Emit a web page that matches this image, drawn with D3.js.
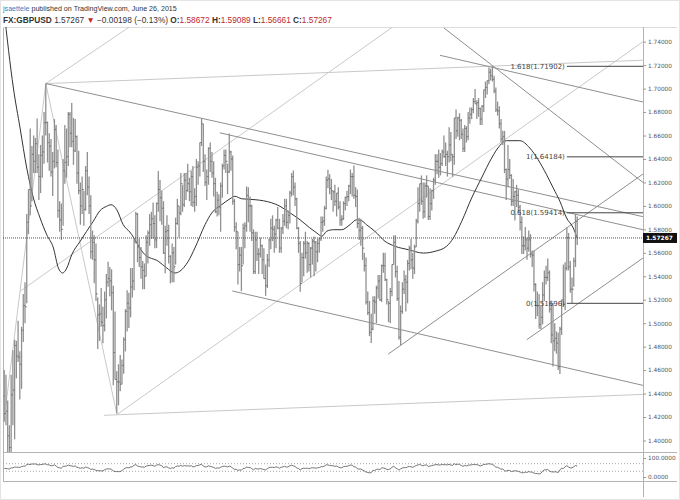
<!DOCTYPE html>
<html><head><meta charset="utf-8">
<script src="https://cdn.jsdelivr.net/npm/d3@7"></script>
<style>
html,body{margin:0;padding:0;background:#fff;}
svg{display:block;}
</style></head><body>
<svg id="chart" width="680" height="500"></svg>
<script>
// ---------- DATA (weekly GBPUSD bars: [high, low, close]) ----------
const bars2009 = [
[1.4600,1.4160,1.4230],[1.4560,1.4130,1.4250],[1.4340,1.3657,1.4040],[1.4130,1.3740,1.3940],[1.4560,1.3860,1.4390],
[1.4770,1.4130,1.4430],[1.4860,1.4010,1.4810],[1.4850,1.4530,1.4720],[1.5020,1.4670,1.4710],[1.4760,1.4350,1.4650],
[1.4970,1.4440,1.4940],[1.5250,1.4840,1.5150],[1.5350,1.5000,1.5140],[1.5930,1.5170,1.5860],[1.6140,1.5760,1.6140],
[1.6660,1.5920,1.6000],[1.6510,1.6040,1.6440],[1.6600,1.6280,1.6380],[1.6580,1.6280,1.6530],[1.6745,1.6280,1.6330],
[1.6440,1.6050,1.6250],[1.6520,1.6110,1.6430],[1.6600,1.6240,1.6460],[1.6800,1.6360,1.6710],[1.7043,1.6600,1.6710],
[1.6720,1.6370,1.6540],[1.6620,1.6300,1.6510],[1.6570,1.6250,1.6290],[1.6460,1.6085,1.6380],[1.6740,1.6320,1.6650],
[1.6690,1.6330,1.6370],[1.6480,1.5900,1.5960],[1.6040,1.5780,1.5880],[1.6020,1.5710,1.5800],[1.6400,1.5830,1.6300],
[1.6690,1.6190,1.6370],[1.6660,1.6240,1.6420],[1.6800,1.6340,1.6780],[1.6800,1.6500,1.6620],[1.6877,1.6500,1.6550],
[1.6750,1.6350,1.6470],[1.6740,1.6460,1.6590],[1.6600,1.6190,1.6280],[1.6470,1.6100,1.6130],[1.6200,1.5840,1.6000],
[1.6250,1.5930,1.6140]];
const bars2010 = [
[1.6130,1.5830,1.5970],[1.6340,1.5960,1.6300],[1.6460,1.6090,1.6160],[1.6250,1.5930,1.6000],[1.6090,1.5550,1.5610],
[1.5790,1.5540,1.5690],[1.5750,1.5340,1.5540],[1.5680,1.5190,1.5250],[1.5220,1.4781,1.5070],[1.5160,1.4850,1.5080],
[1.5300,1.4970,1.5010],[1.5140,1.4830,1.4980],[1.5270,1.4930,1.5200],[1.5420,1.5040,1.5350],[1.5523,1.5310,1.5380],
[1.5480,1.5230,1.5360],[1.5460,1.5110,1.5260],[1.5320,1.4470,1.4750],[1.5100,1.4520,1.4520],[1.4590,1.4230,1.4500],
[1.4650,1.4300,1.4500],[1.4730,1.4420,1.4480],[1.4690,1.4480,1.4640],[1.4880,1.4570,1.4860],[1.5120,1.4760,1.5100],
[1.5280,1.4930,1.5170],[1.5260,1.4960,1.5130],[1.5470,1.5050,1.5310],[1.5470,1.5220,1.5360],[1.5720,1.5280,1.5700],
[1.5950,1.5680,1.5930],[1.5940,1.5520,1.5650],[1.5720,1.5480,1.5560],[1.5650,1.5380,1.5480],[1.5530,1.5290,1.5450],
[1.5510,1.5290,1.5400],[1.5750,1.5400,1.5690],[1.5790,1.5510,1.5770],[1.5930,1.5660,1.5840],[1.5950,1.5720,1.5890],
[1.6030,1.5720,1.5850],[1.5920,1.5640,1.5710],[1.6030,1.5640,1.6020],[1.6298,1.5950,1.6140],[1.6220,1.5870,1.6070],
[1.6130,1.5840,1.5980],[1.6040,1.5590,1.5600],[1.5830,1.5426,1.5780],[1.5920,1.5660,1.5790],[1.5840,1.5510,1.5570],
[1.5580,1.5340,1.5440],[1.5680,1.5350,1.5600]];
const bars2011 = [
[1.5650,1.5350,1.5480],[1.5900,1.5500,1.5850],[1.6060,1.5840,1.6000],[1.6000,1.5730,1.5940],[1.6280,1.5920,1.6190],
[1.6180,1.5950,1.6010],[1.6280,1.5990,1.6220],[1.6280,1.6050,1.6130],[1.6360,1.6120,1.6190],[1.6240,1.6040,1.6120],
[1.6300,1.6000,1.6250],[1.6340,1.5990,1.6030],[1.6150,1.5950,1.6080],[1.6400,1.6000,1.6330],[1.6380,1.6180,1.6340],
[1.6540,1.6250,1.6540],[1.6747,1.6510,1.6700],[1.6700,1.6290,1.6380],[1.6440,1.6170,1.6200],[1.6310,1.6050,1.6250],
[1.6500,1.6180,1.6490],[1.6540,1.6290,1.6380],[1.6460,1.6240,1.6280],[1.6380,1.6080,1.6190],[1.6240,1.5940,1.5950],
[1.6120,1.5910,1.6050],[1.6100,1.5920,1.5990],[1.6200,1.5780,1.6170],[1.6360,1.6070,1.6340],[1.6480,1.6310,1.6430],
[1.6480,1.6280,1.6380],[1.6360,1.6100,1.6290],[1.6618,1.6280,1.6460],[1.6470,1.6300,1.6400],[1.6430,1.6010,1.6040],
[1.6060,1.5780,1.5820],[1.5860,1.5630,1.5780],[1.5780,1.5330,1.5500],[1.5650,1.5440,1.5580],[1.5650,1.5272,1.5490],
[1.5850,1.5500,1.5810],[1.5860,1.5640,1.5830],[1.6166,1.5780,1.6090],[1.6160,1.5860,1.6000],[1.6080,1.5780,1.6000],
[1.6010,1.5700,1.5770],[1.5800,1.5420,1.5440],[1.5780,1.5420,1.5710],[1.5780,1.5530,1.5590],[1.5640,1.5420,1.5590],
[1.5730,1.5560,1.5660],[1.5670,1.5420,1.5540]];
const bars2012 = [
[1.5640,1.5380,1.5380],[1.5500,1.5233,1.5320],[1.5590,1.5300,1.5540],[1.5720,1.5480,1.5710],[1.5890,1.5630,1.5810],
[1.5920,1.5700,1.5800],[1.5830,1.5600,1.5760],[1.5890,1.5640,1.5880],[1.5990,1.5800,1.5810],[1.5890,1.5600,1.5640],
[1.5820,1.5600,1.5810],[1.5930,1.5760,1.5870],[1.6060,1.5830,1.6000],[1.6060,1.5810,1.5860],[1.5960,1.5800,1.5920],
[1.6130,1.5850,1.6110],[1.6280,1.6080,1.6250],[1.6301,1.6090,1.6160],[1.6200,1.6000,1.6060],[1.6070,1.5800,1.5810],
[1.5820,1.5600,1.5680],[1.5700,1.5268,1.5340],[1.5600,1.5350,1.5560],[1.5700,1.5400,1.5680],[1.5780,1.5550,1.5600],
[1.5700,1.5430,1.5680],[1.5690,1.5440,1.5500],[1.5650,1.5390,1.5640],[1.5720,1.5500,1.5700],[1.5740,1.5400,1.5690],
[1.5700,1.5440,1.5610],[1.5720,1.5520,1.5680],[1.5730,1.5600,1.5720],[1.5910,1.5700,1.5860],[1.5910,1.5780,1.5870],
[1.6000,1.5830,1.5980],[1.6250,1.5970,1.6220],[1.6309,1.6150,1.6230],[1.6270,1.6100,1.6150],[1.6230,1.6050,1.6130],
[1.6130,1.5950,1.6120],[1.6180,1.6000,1.6040],[1.6110,1.5910,1.6110],[1.6160,1.5970,1.5990],[1.6040,1.5830,1.5880],
[1.5920,1.5830,1.5890],[1.6040,1.5880,1.6020],[1.6080,1.5960,1.6070],[1.6130,1.6000,1.6080],[1.6180,1.6040,1.6170],
[1.6310,1.6100,1.6250],[1.6280,1.6080,1.6250],[1.6345,1.6060,1.6090]];
const bars2013 = [
[1.6160,1.5990,1.6080],[1.6140,1.5810,1.5850],[1.5900,1.5710,1.5790],[1.5890,1.5660,1.5810],[1.5830,1.5540,1.5640],
[1.5600,1.5440,1.5490],[1.5560,1.5160,1.5180],[1.5270,1.5070,1.5090],[1.5190,1.4890,1.4920],[1.5080,1.4832,1.4950],
[1.5230,1.4940,1.5190],[1.5230,1.5080,1.5180],[1.5320,1.5000,1.5300],[1.5410,1.5210,1.5360],[1.5410,1.5190,1.5200],
[1.5500,1.5180,1.5490],[1.5600,1.5430,1.5490],[1.5600,1.5360,1.5370],[1.5380,1.5160,1.5200],[1.5190,1.5010,1.5170],
[1.5300,1.5000,1.5270],[1.5500,1.5230,1.5500],[1.5750,1.5500,1.5690],[1.5750,1.5390,1.5440],[1.5490,1.5190,1.5210],
[1.5360,1.4860,1.4880],[1.5150,1.4812,1.5100],[1.5350,1.5080,1.5290],[1.5450,1.5250,1.5370],[1.5410,1.5100,1.5350],
[1.5540,1.5170,1.5510],[1.5660,1.5450,1.5640],[1.5720,1.5460,1.5540],[1.5600,1.5380,1.5470],[1.5670,1.5420,1.5650],
[1.5890,1.5650,1.5870],[1.6160,1.5850,1.6020],[1.6190,1.5950,1.6190],[1.6260,1.6010,1.6040],[1.6200,1.5890,1.5950],
[1.6200,1.5900,1.6170],[1.6260,1.6070,1.6170],[1.6170,1.5880,1.5910],[1.6150,1.5880,1.6020],[1.6140,1.5960,1.6130],
[1.6240,1.6060,1.6220],[1.6440,1.6180,1.6380],[1.6440,1.6270,1.6380],[1.6480,1.6240,1.6330],[1.6450,1.6260,1.6360],
[1.6480,1.6340,1.6460],[1.6600,1.6410,1.6420]];
const bars2014 = [
[1.6540,1.6340,1.6440],[1.6470,1.6250,1.6420],[1.6670,1.6370,1.6520],[1.6630,1.6380,1.6440],[1.6440,1.6250,1.6420],
[1.6750,1.6350,1.6750],[1.6823,1.6570,1.6640],[1.6760,1.6590,1.6750],[1.6790,1.6560,1.6730],[1.6740,1.6570,1.6610],
[1.6660,1.6460,1.6490],[1.6690,1.6460,1.6660],[1.6680,1.6540,1.6590],[1.6800,1.6560,1.6750],[1.6840,1.6700,1.6780],
[1.6840,1.6740,1.6820],[1.6920,1.6790,1.6890],[1.6997,1.6870,1.6870],[1.6900,1.6740,1.6880],[1.6920,1.6760,1.6830],
[1.6840,1.6690,1.6740],[1.6860,1.6690,1.6850],[1.6990,1.6800,1.6990],[1.7060,1.6920,1.7010],[1.7070,1.6950,1.7070],
[1.7180,1.7040,1.7140],[1.7170,1.7070,1.7110],[1.7192,1.7060,1.7080],[1.7110,1.6960,1.6980],[1.7010,1.6800,1.6820],
[1.6890,1.6770,1.6810],[1.6850,1.6660,1.6700],[1.6740,1.6540,1.6570],[1.6640,1.6520,1.6590],[1.6640,1.6280,1.6310],
[1.6320,1.6050,1.6230],[1.6520,1.6160,1.6310],[1.6400,1.6230,1.6260],[1.6270,1.6000,1.6040],[1.6230,1.6000,1.6080],
[1.6130,1.5875,1.6120],[1.6180,1.5990,1.6090],[1.6140,1.5950,1.5990],[1.6010,1.5790,1.5860],[1.5910,1.5590,1.5660],
[1.5740,1.5590,1.5660],[1.5820,1.5620,1.5710],[1.5730,1.5540,1.5640],[1.5790,1.5610,1.5710],[1.5760,1.5560,1.5590],
[1.5620,1.5480,1.5580],[1.5620,1.5270,1.5330]];
const bars2015 = [
[1.5340,1.5035,1.5150],[1.5270,1.5060,1.5150],[1.5250,1.4952,1.4990],[1.5150,1.4950,1.5050],[1.5350,1.4990,1.5240],
[1.5450,1.5190,1.5390],[1.5490,1.5330,1.5390],[1.5552,1.5360,1.5430],[1.5450,1.5090,1.5120],[1.5180,1.4830,1.4900],
[1.5170,1.4630,1.4850],[1.5000,1.4760,1.4870],[1.4930,1.4740,1.4830],[1.4920,1.4600,1.4630],[1.4970,1.4566,1.4950],
[1.5200,1.4900,1.5200],[1.5500,1.5140,1.5160],[1.5520,1.5110,1.5470],[1.5815,1.5450,1.5730],[1.5770,1.5450,1.5480],
[1.5530,1.5260,1.5290],[1.5390,1.5170,1.5290],[1.5560,1.5310,1.5530],[1.5930,1.5480,1.5867],[1.59089,1.56661,1.57267]];
const yearStarts = ["2009-02-16","2010-01-04","2011-01-03","2012-01-02","2013-01-07","2014-01-06","2015-01-05"];
const firstOpen = 1.4380, lastOpen = 1.58672;
// weekly closes before the first bar (seed the oscillator)
const seedCloses = [1.4770,1.4770,1.5380,1.4670,1.4950,1.5120,1.4650,1.4590,1.4830,1.4640,1.3710,1.4440,1.4780,1.4360];

// moving average
const maDates = ["2009-02-14","2009-03-25","2009-04-21","2009-05-18","2009-06-14","2009-07-11","2009-08-07","2009-09-03","2009-09-23","2009-10-10","2009-10-27","2009-11-16","2009-12-20",
"2010-01-15","2010-02-11","2010-03-10","2010-04-06","2010-04-24","2010-05-17","2010-06-12","2010-07-09","2010-09-08","2010-11-01","2010-12-05",
"2011-01-07","2011-01-27","2011-03-02","2011-03-29","2011-05-09","2011-06-05","2011-07-15","2011-08-18","2011-09-07","2011-10-04","2011-11-27","2011-12-31",
"2012-03-07","2012-04-17","2012-05-27","2012-07-06","2012-08-03","2012-08-23","2012-09-12","2012-10-09","2012-11-12","2012-12-15",
"2013-01-11","2013-01-31","2013-02-20","2013-03-26","2013-05-06","2013-06-15","2013-08-08","2013-10-08","2013-11-24",
"2014-01-10","2014-02-06","2014-03-12","2014-04-21","2014-05-31","2014-07-11","2014-08-13","2014-09-09","2014-11-02","2014-12-12",
"2015-01-15","2015-02-18","2015-03-17","2015-04-13","2015-05-10","2015-06-06","2015-06-22"];
const maValues = [1.7690,1.7005,1.6664,1.6323,1.6067,1.5897,1.5754,1.5641,1.5470,1.5428,1.5470,1.5584,1.5698,
1.5783,1.5869,1.5959,1.5997,1.6010,1.5968,1.5840,1.5777,1.5584,1.5528,1.5471,
1.5428,1.5443,1.5528,1.5641,1.5840,1.5940,1.6010,1.6061,1.6082,1.6061,1.6053,1.6044,
1.5997,1.5940,1.5882,1.5812,1.5769,1.5741,1.5784,1.5797,1.5797,1.5840,
1.5882,1.5874,1.5840,1.5783,1.5698,1.5656,1.5627,1.5598,1.5613,
1.5656,1.5726,1.5869,1.6067,1.6238,1.6408,1.6515,1.6556,1.6556,1.6494,
1.6394,1.6266,1.6153,1.6039,1.5897,1.5812,1.5726];

// trend lines [date1, price1, date2, price2, extendRight]
const lightLines = [
 ["2009-08-03",1.7043,"2014-07-14",1.7192,1],
 ["2010-03-26",1.4215,"2016-03-14",1.4393,0],
 ["2010-05-17",1.4220,"2016-03-14",1.7400,0],
 ["2009-04-21",1.5272,"2013-04-16",1.7450,1],
 ["2009-02-23",1.4305,"2009-08-03",1.7043,0],
 ["2009-08-03",1.7043,"2010-07-01",1.7517,1],
 ["2009-08-03",1.7043,"2010-05-17",1.4230,0]];
const darkLines = [
 ["2009-08-03",1.7043,"2011-04-25",1.6747,1],
 ["2011-07-08",1.6623,"2016-03-14",1.5797,0],
 ["2011-08-27",1.5275,"2016-03-14",1.4470,0],
 ["2013-05-19",1.4737,"2016-03-14",1.6272,0],
 ["2014-11-30",1.4859,"2016-03-14",1.5556,0],
 ["2013-12-30",1.7517,"2016-03-14",1.6200,0],
 ["2013-12-14",1.7284,"2016-03-14",1.6886,0]];

const fibRatios = ["1.618","1","0.618","0"];
const fibPrices = [1.71902,1.64184,1.59414,1.51696];
const fibStart = "2015-05-11";

const priceTicks = [1.40,1.42,1.44,1.46,1.48,1.50,1.52,1.54,1.56,1.58,1.60,1.62,1.64,1.66,1.68,1.70,1.72,1.74];
const timeTickDates = ["2009-03-01","2010-01-01","2010-07-01","2011-01-01","2011-07-01","2012-01-01","2012-07-01","2013-01-01","2013-07-01","2014-01-01","2014-07-01","2015-01-01","2015-07-01","2016-01-01"];
const timeTickLabels = ["Mar","2010","Jul","2011","Jul","2012","Jul","2013","Jul","2014","Jul","2015","Jul","2016"];
const oscTicks = [0,100];
const oscLevels = [30,70];
const lastPrice = 1.57267;
const headerQuote = ["1.58672","1.59089","1.56661","1.57267"];

// ---------- BUILD ----------
const parse = d3.utcParse("%Y-%m-%d");
const DAY = 864e5;
const bars = [];
[bars2009,bars2010,bars2011,bars2012,bars2013,bars2014,bars2015].forEach((arr,k)=>{
  const t0 = +parse(yearStarts[k]);
  arr.forEach((b,i)=>bars.push({date:new Date(t0+i*7*DAY),high:b[0],low:b[1],close:b[2]}));
});
bars.forEach((b,i)=>{ b.open = i===0 ? firstOpen : bars[i-1].close; });
bars[bars.length-1].open = lastOpen;

const svg = d3.select("#chart");
const L=3, R=643, T=27, B=452, OT=452, OB=481;
const x = d3.scaleUtc().domain([parse("2009-02-11"), parse("2016-03-14")]).range([L,R]);
const y = d3.scaleLinear().domain([1.40,1.74]).range([440.5,41.7]);
const yo = d3.scaleLinear().domain([0,100]).range([477,458]);

svg.append("rect").attr("width",680).attr("height",500).attr("fill","#fff");
const defs = svg.append("defs");
defs.append("clipPath").attr("id","main").append("rect").attr("x",L).attr("y",T).attr("width",R-L).attr("height",B-T);
defs.append("clipPath").attr("id","osc").append("rect").attr("x",L).attr("y",OT).attr("width",R-L).attr("height",OB-OT);
defs.append("clipPath").attr("id","tax").append("rect").attr("x",L).attr("y",OB).attr("width",R-L).attr("height",20);

// frame
const fr = svg.append("g").attr("stroke","#b4b4b4").attr("fill","none").attr("shape-rendering","crispEdges");
fr.append("line").attr("x1",L).attr("x2",L).attr("y1",T).attr("y2",OB);
fr.append("line").attr("x1",L).attr("x2",677).attr("y1",T).attr("y2",T).attr("stroke","#ddd");
fr.append("line").attr("x1",L).attr("x2",677).attr("y1",B).attr("y2",B);
fr.append("line").attr("x1",L).attr("x2",677).attr("y1",OB).attr("y2",OB);
fr.append("line").attr("x1",R).attr("x2",R).attr("y1",T).attr("y2",497);
fr.append("rect").attr("x",0.5).attr("y",0.5).attr("width",679).attr("height",499).attr("stroke","#e4e4e4");

const main = svg.append("g").attr("clip-path","url(#main)");

function drawLines(list, color){
  list.forEach(l=>{
    let x1=x(parse(l[0])), y1=y(l[1]), x2=x(parse(l[2])), y2=y(l[3]);
    if(l[4]){ const s=(y2-y1)/(x2-x1); y2 = y2 + s*(R-x2); x2=R; }
    main.append("line").attr("x1",x1).attr("y1",y1).attr("x2",x2).attr("y2",y2)
      .attr("stroke",color).attr("stroke-width",1);
  });
}
drawLines(lightLines,"#c9c9c9");
drawLines(darkLines,"#8f8f8f");

// moving average
const maPts = maDates.map((d,i)=>[x(parse(d)), y(maValues[i])]);
main.append("path").attr("d", d3.line().curve(d3.curveMonotoneX)(maPts))
  .attr("fill","none").attr("stroke","#333").attr("stroke-width",1);

// bars
const bg = main.append("g");
bars.forEach(b=>{
  const cx = x(b.date);
  bg.append("path").attr("d",`M${cx},${y(b.high)}V${y(b.low)}`).attr("stroke","#909090").attr("stroke-width",1.3);
  bg.append("path").attr("d",`M${cx-1},${y(b.open)}H${cx}M${cx},${y(b.close)}H${cx+1}`).attr("stroke","#666").attr("stroke-width",0.8);
});

// current price dotted line
main.append("line").attr("x1",L).attr("x2",R).attr("y1",y(lastPrice)).attr("y2",y(lastPrice))
  .attr("stroke","#555").attr("stroke-dasharray","1,1").attr("stroke-width",1);

// fib levels
const fx = x(parse(fibStart));
fibPrices.forEach((p,i)=>{
  main.append("line").attr("x1",fx).attr("x2",R).attr("y1",y(p)).attr("y2",y(p)).attr("stroke","#444").attr("stroke-width",1);
  main.append("text").attr("x",fx-2).attr("y",y(p)+2.5).attr("text-anchor","end")
    .attr("font-family","DejaVu Sans").attr("font-size",7).attr("fill","#444")
    .text(`${fibRatios[i]}(${d3.format(".5f")(p)})`);
});

// price axis
const ax = svg.append("g").attr("transform",`translate(${R},0)`)
  .call(d3.axisRight(y).tickValues(priceTicks).tickFormat(d3.format(".5f")).tickSize(3).tickPadding(2));
ax.select(".domain").remove();
ax.selectAll("line").attr("stroke","#999");
ax.selectAll("text").attr("font-family","DejaVu Sans").attr("font-size",5.8).attr("fill","#555");

// last price tag
svg.append("rect").attr("x",R).attr("y",y(lastPrice)-5).attr("width",34).attr("height",10).attr("fill","#111");
svg.append("text").attr("x",R+3).attr("y",y(lastPrice)+2.2).attr("font-family","DejaVu Sans").attr("font-size",5.9)
  .attr("font-weight","bold").attr("fill","#fff").text(d3.format(".5f")(lastPrice));

// oscillator (RSI 14 computed from weekly closes)
const closesAll = seedCloses.concat(bars.map(b=>b.close));
const n=14; let ag=0, al=0; const rsi=[];
for(let i=1;i<closesAll.length;i++){
  const ch = closesAll[i]-closesAll[i-1], g=Math.max(ch,0), lo=Math.max(-ch,0);
  if(i<=n){ ag+=g/n; al+=lo/n; } else { ag=(ag*(n-1)+g)/n; al=(al*(n-1)+lo)/n; }
  if(i>=n) rsi.push(100-100/(1+ag/(al||1e-9)));
}
const osc = svg.append("g").attr("clip-path","url(#osc)");
oscLevels.forEach(v=>osc.append("line").attr("x1",L).attr("x2",R).attr("y1",yo(v)).attr("y2",yo(v))
  .attr("stroke","#aaa").attr("stroke-dasharray","1,2"));
const rsiPts = bars.map((b,i)=>[x(b.date), yo(rsi[i])]);
osc.append("path").attr("d",d3.line()(rsiPts)).attr("fill","none").attr("stroke","#666").attr("stroke-width",0.9);
const oa = svg.append("g").attr("transform",`translate(${R},0)`)
  .call(d3.axisRight(yo).tickValues(oscTicks).tickFormat(d3.format(".4f")).tickSize(3).tickPadding(2));
oa.select(".domain").remove();
oa.selectAll("line").attr("stroke","#999");
oa.selectAll("text").attr("font-family","DejaVu Sans").attr("font-size",5.8).attr("fill","#555");

// time axis
const ta = svg.append("g").attr("transform",`translate(0,${OB})`).attr("clip-path","url(#tax)")
  .call(d3.axisBottom(x).tickValues(timeTickDates.map(parse)).tickFormat((d,i)=>timeTickLabels[i]).tickSize(0).tickPadding(7));
ta.select(".domain").remove();
ta.selectAll("text").attr("font-family","DejaVu Sans").attr("font-size",5.8).attr("fill","#555");

// header (font size fitted to the measured width of the original header lines)
function fitWidth(sel, target){
  const fs = +sel.attr("font-size");
  const w = sel.node().getComputedTextLength();
  if (w > 0) sel.attr("font-size", fs*target/w);
}
const h1 = svg.append("text").attr("x",3).attr("y",11).attr("font-family","Liberation Sans, Arial").attr("font-size",8).attr("fill","#333");
h1.append("tspan").attr("fill","#2f7fc8").text("jsaettele");
h1.append("tspan").text(" published on TradingView.com, June 26, 2015");
fitWidth(h1, 174);
const h2 = svg.append("text").attr("x",3).attr("y",22.5).attr("font-family","Liberation Sans, Arial").attr("font-size",8).attr("fill","#333");
h2.append("tspan").attr("font-weight","bold").text("FX:GBPUSD");
h2.append("tspan").text(" 1.57267 ");
h2.append("tspan").attr("fill","#c0282d").text("▼");
h2.append("tspan").text(" −0.00198 (−0.13%) ");
["O:","H:","L:","C:"].forEach((k,i)=>{
  h2.append("tspan").attr("font-weight","bold").text((i?" ":"")+k);
  h2.append("tspan").attr("fill","#c0282d").text(headerQuote[i]);
});
fitWidth(h2, 329);
</script></body></html>
